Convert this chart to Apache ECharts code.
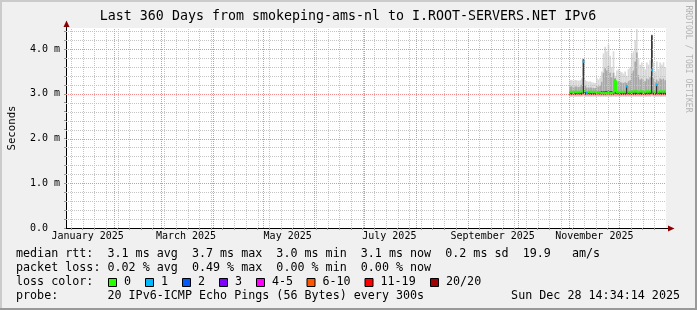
<!DOCTYPE html>
<html><head><meta charset="utf-8">
<script src="https://cdn.jsdelivr.net/npm/echarts@6/dist/echarts.min.js"></script>
<style>html,body{margin:0;padding:0;background:#f0f0f0}#c{width:697px;height:310px}</style>
</head><body><div id="c"></div>
<script>
// ---------------- data ----------------
const chartTitle = 'Last 360 Days from smokeping-ams-nl to I.ROOT-SERVERS.NET IPv6';
const yAxisName = 'Seconds';
const watermark = 'RRDTOOL / TOBI OETIKER';
const rangeStart = '2025-01-03T00:00:00Z';
const rangeEnd = '2025-12-29T00:00:00Z';
const yMax = 4.47;
const yLabelValues = [0, 1, 2, 3, 4];
const yLabels = ['0.0  ', '1.0 m', '2.0 m', '3.0 m', '4.0 m'];
const yMajorValues = [1, 2, 3, 4];
const yMinorValues = [0.2,0.4,0.6,0.8,1.2,1.4,1.6,1.8,2.2,2.4,2.6,2.8,3.2,3.4,3.6,3.8,4.2,4.4];
const xLabelDates = ['2025-01-16','2025-03-16','2025-05-16','2025-07-16','2025-09-16','2025-11-16'];
const xLabels = ['January 2025','March 2025','May 2025','July 2025','September 2025','November 2025'];
const monthStarts = ['2025-02-01','2025-03-01','2025-04-01','2025-05-01','2025-06-01','2025-07-01','2025-08-01','2025-09-01','2025-10-01','2025-11-01','2025-12-01'];
const weekStarts = ['2025-01-06','2025-01-13','2025-01-20','2025-01-27','2025-02-03','2025-02-10','2025-02-17','2025-02-24','2025-03-03','2025-03-10','2025-03-17','2025-03-24','2025-03-31','2025-04-07','2025-04-14','2025-04-21','2025-04-28','2025-05-05','2025-05-12','2025-05-19','2025-05-26','2025-06-02','2025-06-09','2025-06-16','2025-06-23','2025-06-30','2025-07-07','2025-07-14','2025-07-21','2025-07-28','2025-08-04','2025-08-11','2025-08-18','2025-08-25','2025-09-01','2025-09-08','2025-09-15','2025-09-22','2025-09-29','2025-10-06','2025-10-13','2025-10-20','2025-10-27','2025-11-03','2025-11-10','2025-11-17','2025-11-24','2025-12-08','2025-12-15','2025-12-22'];

const days = ['2025-11-01','2025-11-02','2025-11-03','2025-11-04','2025-11-05','2025-11-06','2025-11-07','2025-11-08','2025-11-09','2025-11-10',
'2025-11-11','2025-11-12','2025-11-13','2025-11-14','2025-11-15','2025-11-16','2025-11-17','2025-11-18','2025-11-19','2025-11-20',
'2025-11-21','2025-11-22','2025-11-23','2025-11-24','2025-11-25','2025-11-26','2025-11-27','2025-11-28','2025-11-29','2025-11-30',
'2025-12-01','2025-12-02','2025-12-03','2025-12-04','2025-12-05','2025-12-06','2025-12-07','2025-12-08','2025-12-09','2025-12-10',
'2025-12-11','2025-12-12','2025-12-13','2025-12-14','2025-12-15','2025-12-16','2025-12-17','2025-12-18','2025-12-19','2025-12-20',
'2025-12-21','2025-12-22','2025-12-23','2025-12-24','2025-12-25','2025-12-26','2025-12-27','2025-12-28'];
// values in ms
const smokeLow  = [2.93,2.93,2.93,2.93,2.93,2.93,2.93,2.93,2.94,2.93, 2.93,2.93,2.93,2.93,2.93,2.93,2.93,2.93,2.93,2.93, 2.93,2.93,2.93,2.93,2.93,2.93,2.93,2.93,2.93,2.93, 2.93,2.93,2.93,2.93,2.93,2.93,2.93,2.93,2.93,2.93, 2.93,2.93,2.93,2.93,2.93,2.93,2.93,2.93,2.93,2.94, 2.93,2.93,2.93,2.93,2.93,2.93,2.93,2.93];
const bandLow   = [2.96,2.96,2.96,2.96,2.96,2.96,2.96,2.96,2.97,2.96, 2.96,2.96,2.96,2.96,2.96,2.96,2.96,2.96,2.96,2.96, 2.96,2.96,2.96,2.96,2.96,2.96,2.96,2.96,2.96,2.96, 2.96,2.96,2.96,2.96,2.96,2.96,2.96,2.96,2.96,2.96, 2.96,2.96,2.96,2.96,2.96,2.96,2.96,2.96,2.96,2.97, 2.96,2.96,2.96,2.96,2.96,2.96,2.96,2.96];
const coreLow   = [2.98,2.98,2.98,2.98,2.98,2.98,2.98,2.98,3.00,2.98, 2.98,2.98,2.98,2.98,2.98,2.98,2.98,2.98,2.98,2.98, 2.98,2.98,2.98,2.98,2.98,2.98,2.98,3.00,2.98,2.98, 2.98,2.98,2.98,2.98,2.98,2.98,2.98,2.98,2.98,2.98, 2.98,2.98,2.98,2.98,2.98,2.98,2.98,2.98,2.98,3.00, 2.98,2.98,2.98,2.98,2.98,2.98,2.98,2.98];
const coreHigh  = [3.05,3.05,3.05,3.05,3.05,3.05,3.05,3.06,3.77,3.07, 3.04,3.05,3.05,3.05,3.05,3.05,3.05,3.05,3.05,3.06, 3.06,3.06,3.06,3.07,3.06,3.06,3.06,3.32,3.05,3.05, 3.05,3.05,3.05,3.05,3.18,3.05,3.05,3.06,3.06,3.07, 3.07,3.06,3.06,3.06,3.05,3.05,3.06,3.06,3.06,4.31, 3.06,3.05,3.22,3.05,3.06,3.06,3.06,3.06];
const bandHigh  = [3.16,3.17,3.15,3.16,3.16,3.15,3.16,3.20,3.77,3.18, 3.14,3.14,3.14,3.14,3.13,3.13,3.17,3.16,3.18,3.27, 3.47,3.57,3.52,3.62,3.47,3.37,3.47,3.35,3.27,3.28, 3.26,3.25,3.24,3.26,3.24,3.28,3.30,3.47,3.52,3.72, 3.92,3.42,3.32,3.34,3.30,3.28,3.34,3.32,3.37,4.31, 3.34,3.26,3.32,3.28,3.34,3.32,3.34,3.30];
const smokeHigh = [3.30,3.31,3.29,3.31,3.30,3.29,3.30,3.34,3.79,3.30, 3.28,3.27,3.28,3.26,3.25,3.24,3.35,3.32,3.36,3.50, 3.90,4.05,3.95,4.10,3.85,3.60,3.95,3.40,3.52,3.55, 3.50,3.48,3.45,3.50,3.40,3.55,3.60,3.90,3.95,4.20, 4.45,3.80,3.65,3.70,3.60,3.55,3.70,3.65,3.75,4.33, 3.70,3.50,3.72,3.55,3.70,3.65,3.70,3.60];
const medianRtt = [3.04,3.04,3.04,3.04,3.04,3.04,3.04,3.05,3.72,3.06, 3.02,3.04,3.04,3.04,3.04,3.04,3.03,3.03,3.03,3.02, 3.02,3.02,3.02,3.02,3.02,3.02,3.03,3.30,3.04,3.04, 3.04,3.04,3.04,3.04,3.17,3.04,3.04,3.05,3.05,3.05, 3.05,3.04,3.05,3.05,3.04,3.04,3.05,3.05,3.05,3.53, 3.05,3.04,3.20,3.04,3.05,3.05,3.05,3.05];
const lossCount = [0,0,0,0,0,0,0,0,1,0, 1,0,0,0,0,0,0,0,0,0, 0,0,0,0,0,0,0,0,0,0, 0,0,0,0,1,0,0,0,0,0, 0,0,0,0,0,0,0,0,0,1, 0,0,1,0,0,0,0,0];

const lossNames  = ['0','1','2','3','4-5','6-10','11-19','20/20'];
const lossColors = ['#26ff00','#00b8ff','#0059ff','#7e00ff','#ff00ff','#ff5500','#ff0000','#a10000'];

const legendRows = [
  'median rtt:  3.1 ms avg  3.7 ms max  3.0 ms min  3.1 ms now  0.2 ms sd  19.9   am/s',
  'packet loss: 0.02 % avg  0.49 % max  0.00 % min  0.00 % now',
  'loss color:',
  'probe:       20 IPv6-ICMP Echo Pings (56 Bytes) every 300s'
];
const stampText = 'Sun Dec 28 14:34:14 2025';

// ---------------- build ----------------
const T = s => Date.parse(s.length === 10 ? s + 'T00:00:00Z' : s);
const DAY = 86400000;
const tMin = T(rangeStart), tMax = T(rangeEnd);

const smokeData = days.map((d, i) => [T(d), T(d) + DAY, smokeLow[i], smokeHigh[i], bandLow[i], bandHigh[i], coreLow[i], coreHigh[i]]);
const medData = days.map((d, i) => [T(d), T(d) + DAY, medianRtt[i], lossCount[i],
  i > 0 ? medianRtt[i-1] : null, i > 0 ? lossCount[i-1] : -1]);

function lossIdx(n) { return n === 0 ? 0 : n === 1 ? 1 : n === 2 ? 2 : n === 3 ? 3 : n <= 5 ? 4 : n <= 10 ? 5 : n <= 19 ? 6 : 7; }

const MONO = '"DejaVu Sans Mono", monospace';

const minorGrid = weekStarts.map(w => [0, T(w)]).concat(yMinorValues.map(v => [1, v]));
const majorGrid = monthStarts.map(m => [0, T(m)]).concat(yMajorValues.map(v => [1, v]));

function gridSeries(data, color, z) {
  return {
    type: 'custom', z: z, silent: true, data: data,
    renderItem: (params, api) => {
      const vert = api.value(0) === 0, v = api.value(1);
      let a, b;
      if (vert) { a = api.coord([v, 0]); b = api.coord([v, yMax]); const x = Math.round(a[0]) + 0.5; a[0] = x; b[0] = x; }
      else { a = api.coord([tMin, v]); b = api.coord([tMax, v]); const y = Math.round(a[1]) + 0.5; a[1] = y; b[1] = y; }
      return { type: 'line', shape: { x1: a[0], y1: a[1], x2: b[0], y2: b[1] },
        style: { stroke: color, lineWidth: 1, lineDash: [1, 1] } };
    }
  };
}

const graphics = [
  { type: 'rect', shape: { x: 0, y: 0, width: 697, height: 2 }, style: { fill: '#cbcbcb' }, silent: true },
  { type: 'rect', shape: { x: 0, y: 0, width: 2, height: 310 }, style: { fill: '#cbcbcb' }, silent: true },
  { type: 'rect', shape: { x: 0, y: 308, width: 697, height: 2 }, style: { fill: '#999999' }, silent: true },
  { type: 'rect', shape: { x: 695, y: 0, width: 2, height: 310 }, style: { fill: '#999999' }, silent: true },
  { type: 'text', x: 348, y: 17, style: { text: chartTitle, font: '13.3px ' + MONO, fill: '#000', align: 'center', verticalAlign: 'middle' } },
  { type: 'text', x: 12, y: 128, rotation: Math.PI / 2, style: { text: yAxisName, font: '10.7px ' + MONO, fill: '#000', align: 'center', verticalAlign: 'middle' } },
  { type: 'text', x: 688, y: 59, rotation: -Math.PI / 2, style: { text: watermark, font: '8.1px ' + MONO, fill: '#b4b4b4', align: 'center', verticalAlign: 'middle' } },
  { type: 'line', shape: { x1: 66.5, y1: 28, x2: 66.5, y2: 23 }, style: { stroke: '#000', lineWidth: 1 } },
  { type: 'polygon', shape: { points: [[63.5, 27], [69.5, 27], [66.5, 20.5]] }, style: { fill: '#8b0000' } },
  { type: 'line', shape: { x1: 666, y1: 228.5, x2: 670, y2: 228.5 }, style: { stroke: '#000', lineWidth: 1 } },
  { type: 'polygon', shape: { points: [[668, 225.5], [668, 231.5], [674.5, 228.5]] }, style: { fill: '#8b0000' } }
];
const rowY = [254, 268, 282, 296];
legendRows.forEach((r, i) => graphics.push({ type: 'text', x: 16, y: rowY[i], style: { text: r, font: '11.7px ' + MONO, fill: '#000', align: 'left', verticalAlign: 'middle' } }));
graphics.push({ type: 'text', x: 680, y: rowY[3], style: { text: stampText, font: '11.7px ' + MONO, fill: '#000', align: 'right', verticalAlign: 'middle' } });
const boxX = [108.5, 145.5, 182.5, 219.5, 256.5, 307, 365, 430.5];
lossNames.forEach((n, i) => {
  graphics.push({ type: 'rect', shape: { x: boxX[i], y: 278.5, width: 8, height: 8 }, style: { fill: lossColors[i], stroke: '#000', lineWidth: 1 } });
  graphics.push({ type: 'text', x: boxX[i] + 15.5, y: rowY[2], style: { text: n, font: '11.7px ' + MONO, fill: '#000', align: 'left', verticalAlign: 'middle' } });
});

const option = {
  animation: false,
  backgroundColor: '#f0f0f0',
  grid: { left: 66, top: 28, width: 600, height: 200, show: true, backgroundColor: '#ffffff', borderWidth: 0 },
  xAxis: {
    type: 'value', min: tMin, max: tMax,
    axisLine: { show: true, lineStyle: { color: '#000', width: 1 } },
    axisTick: { show: true, length: 2, lineStyle: { color: '#999' }, customValues: weekStarts.map(T) },
    axisLabel: { show: true, customValues: xLabelDates.map(T), margin: 3, fontFamily: 'DejaVu Sans Mono', fontSize: 10, color: '#000',
      formatter: v => { const k = xLabelDates.map(T).indexOf(v); return k >= 0 ? xLabels[k] : ''; } },
    splitLine: { show: false }
  },
  yAxis: {
    type: 'value', min: 0, max: yMax,
    axisLine: { show: true, lineStyle: { color: '#000', width: 1 } },
    axisTick: { show: true, length: 2, lineStyle: { color: '#999' }, customValues: yMinorValues.concat(yLabelValues) },
    axisLabel: { show: true, customValues: yLabelValues, margin: 6, fontFamily: 'DejaVu Sans Mono', fontSize: 10, color: '#000',
      formatter: v => { const k = yLabelValues.indexOf(v); return k >= 0 ? yLabels[k] : ''; } },
    splitLine: { show: false }
  },
  graphic: graphics,
  series: [
    {
      type: 'custom', z: 2, silent: true,
      data: smokeData,
      renderItem: (params, api) => {
        const right = params.coordSys.x + params.coordSys.width;
        const t0 = api.value(0), t1 = api.value(1);
        const mk = (lo, hi, color) => {
          const a = api.coord([t0, hi]), b = api.coord([t1, lo]);
          const x1 = Math.min(b[0], right);
          return { type: 'rect', shape: { x: a[0], y: a[1], width: Math.max(0, x1 - a[0]), height: b[1] - a[1] }, style: { fill: color } };
        };
        return { type: 'group', children: [
          mk(api.value(2), api.value(3), '#d9d9d9'),
          mk(api.value(4), api.value(5), '#a9a9a9'),
          mk(api.value(6), api.value(7), '#383838')
        ] };
      }
    },
    gridSeries(minorGrid, '#c4c4c4', 4),
    gridSeries(majorGrid, '#f58c8c', 5),
    {
      type: 'custom', z: 6, silent: true,
      data: medData,
      renderItem: (params, api) => {
        const right = params.coordSys.x + params.coordSys.width;
        const t0 = api.value(0), t1 = api.value(1);
        const m = api.value(2), l = api.value(3), pm = api.value(4), pl = api.value(5);
        const col = lossColors[lossIdx(l)];
        const a = api.coord([t0, m]), b = api.coord([t1, m]);
        const kids = [{ type: 'line', shape: { x1: a[0], y1: a[1], x2: Math.min(b[0], right), y2: a[1] }, style: { stroke: col, lineWidth: 2.5 } }];
        if (pl >= 0 && lossIdx(pl) === lossIdx(l)) {
          const p = api.coord([t0, pm]);
          kids.push({ type: 'line', shape: { x1: a[0], y1: p[1], x2: a[0], y2: a[1] }, style: { stroke: col, lineWidth: 2.5 } });
        }
        return { type: 'group', children: kids };
      }
    }
  ]
};
const chart = echarts.init(document.getElementById('c'), null, { renderer: 'canvas' });
chart.setOption(option);
</script></body></html>
